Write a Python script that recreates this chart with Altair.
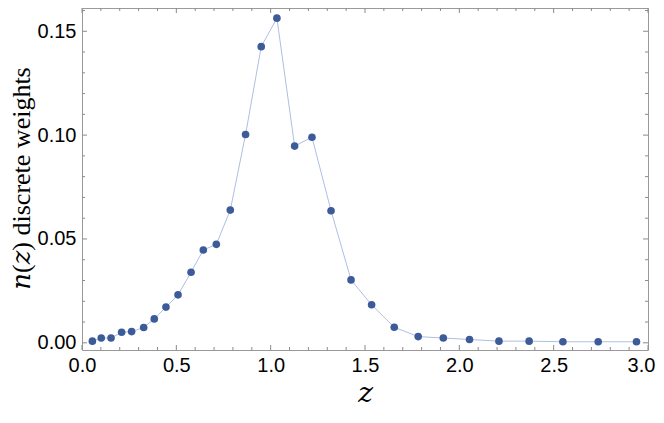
import altair as alt
import pandas as pd

# data
z = [0.055, 0.102, 0.154, 0.210, 0.263, 0.327, 0.383, 0.445, 0.509, 0.578,
     0.643, 0.712, 0.786, 0.867, 0.950, 1.033, 1.127, 1.219, 1.320, 1.426,
     1.535, 1.655, 1.782, 1.915, 2.054, 2.210, 2.370, 2.549, 2.736, 2.939]
n = [0.0008, 0.0023, 0.0023, 0.0051, 0.0054, 0.0074, 0.0115, 0.0172, 0.0231, 0.0340,
     0.0447, 0.0474, 0.0639, 0.1003, 0.1426, 0.1563, 0.0947, 0.0990, 0.0636, 0.0303,
     0.0183, 0.0075, 0.0030, 0.0023, 0.0016, 0.0008, 0.0008, 0.0005, 0.0005, 0.0005]

x_major = [0.0, 0.5, 1.0, 1.5, 2.0, 2.5, 3.0]
x_minor = [0.1, 0.2, 0.3, 0.4, 0.6, 0.7, 0.8, 0.9, 1.1, 1.2, 1.3, 1.4, 1.6, 1.7, 1.8, 1.9,
           2.1, 2.2, 2.3, 2.4, 2.6, 2.7, 2.8, 2.9]
y_major = [0.0, 0.05, 0.10, 0.15]
y_minor = [0.01, 0.02, 0.03, 0.04, 0.06, 0.07, 0.08, 0.09, 0.11, 0.12, 0.13, 0.14, 0.16]

W, H = 566, 342
MAJ, MIN = 5, 3
TICK = "#8a8a8a"
FRAME = "#9a9a9a"
SERIF = "Liberation Serif, DejaVu Serif, serif"

df = pd.DataFrame({"z": z, "n": n})
xs = alt.Scale(domain=[0, 3], nice=False, zero=False)
ys = alt.Scale(domain=[-0.00346, 0.1612], nice=False, zero=False)

xaxis = alt.Axis(values=x_major, format=".1f", grid=False, ticks=False, tickSize=0,
                 domain=False, labelFont="Liberation Sans", labelFontSize=20,
                 labelColor="black", labelPadding=5, labelFlush=False, labelOverlap=False,
                 labelOffset={"condition": {"test": "datum.value >= 3", "value": -7}, "value": 0},
                 title="𝑧", titleFont=SERIF, titleFontSize=28,
                 titleFontWeight="normal", titleColor="black",
                 titleY=51, titleBaseline="alphabetic", titleAlign="center")
yaxis = alt.Axis(values=y_major, format=".2f", grid=False, ticks=False, tickSize=0,
                 domain=False, labelFont="Liberation Sans", labelFontSize=20,
                 labelColor="black", labelPadding=6, labelFlush=False, labelOverlap=False,
                 title="𝑛(𝑧) discrete weights", titleFont=SERIF, titleFontSize=26,
                 titleFontWeight="normal", titleColor="black", titleAngle=270,
                 titleX=-48, titleY=170, titleAlign="center", titleBaseline="bottom")


def xticks(vals, length, top):
    d = pd.DataFrame({"z": vals})
    y0 = 0 if top else H
    y1 = length if top else H - length
    return alt.Chart(d).mark_rule(color=TICK, strokeWidth=1).encode(
        x=alt.X("z:Q", scale=xs, axis=xaxis), y=alt.value(y0), y2=alt.value(y1))


def yticks(vals, length, right):
    d = pd.DataFrame({"n": vals})
    x0 = W if right else 0
    x1 = W - length if right else length
    return alt.Chart(d).mark_rule(color=TICK, strokeWidth=1).encode(
        y=alt.Y("n:Q", scale=ys, axis=yaxis), x=alt.value(x0), x2=alt.value(x1))


ticks = [xticks(x_major, MAJ, False), xticks(x_minor, MIN, False),
         xticks(x_major, MAJ, True), xticks(x_minor, MIN, True),
         yticks(y_major, MAJ, False), yticks(y_minor, MIN, False),
         yticks(y_major, MAJ, True), yticks(y_minor, MIN, True)]

line = alt.Chart(df).mark_line(color="#aebfe2", strokeWidth=1).encode(
    x=alt.X("z:Q", scale=xs, axis=xaxis),
    y=alt.Y("n:Q", scale=ys, axis=yaxis))
points = alt.Chart(df).mark_circle(size=58, color="#3d5a99", opacity=1).encode(
    x=alt.X("z:Q", scale=xs, axis=xaxis),
    y=alt.Y("n:Q", scale=ys, axis=yaxis))

chart = alt.layer(*ticks, line, points).properties(
    width=W, height=H,
    autosize=alt.AutoSizeParams(type="none"),
    padding={"left": 74, "top": 0, "right": 8, "bottom": 58},
).configure_view(stroke=FRAME, strokeWidth=1).configure_axis(
    titleFont=SERIF, titleFontWeight="normal", labelFont="Liberation Sans")

chart.save("out.html", embed_options={"renderer": "svg", "actions": False})
